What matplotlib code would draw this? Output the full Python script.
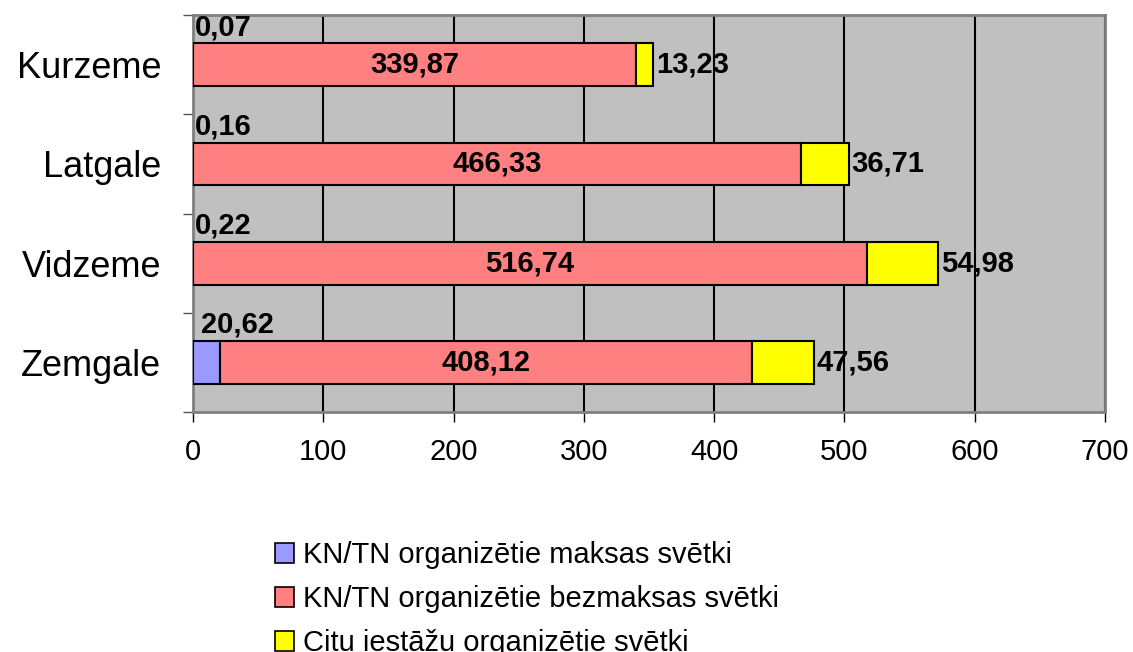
import matplotlib
matplotlib.use("Agg")
import matplotlib.pyplot as plt
from matplotlib.patches import Patch
import numpy as np

regions = ["Kurzeme", "Latgale", "Vidzeme", "Zemgale"]
maksas = [0.07, 0.16, 0.22, 20.62]
bezmaksas = [339.87, 466.33, 516.74, 408.12]
citu = [13.23, 36.71, 54.98, 47.56]
series_names = [
    "KN/TN organizētie maksas svētki",
    "KN/TN organizētie bezmaksas svētki",
    "Citu iestāžu organizētie svētki",
]
colors = ["#9999FF", "#FF8080", "#FFFF00"]
x_ticks = [0, 100, 200, 300, 400, 500, 600, 700]

plt.rcParams["font.family"] = ["Liberation Sans", "DejaVu Sans"]


def fmt(v):
    return f"{v:.2f}".replace(".", ",")


fig = plt.figure(figsize=(11.33, 6.52), dpi=100)
ax = fig.add_axes([0.1703, 0.368, 0.805, 0.609])
ax.set_facecolor("#C0C0C0")

y = np.arange(len(regions))
h = 0.43
left = np.zeros(len(regions))
for vals, col in zip([maksas, bezmaksas, citu], colors):
    ax.barh(y, vals, left=left, height=h, color=col, edgecolor="black",
            linewidth=1.5, zorder=3)
    left = left + np.array(vals)

# value labels
lbl = dict(fontsize=21, fontweight="bold", zorder=5, va="center")
for i in range(len(regions)):
    ax.annotate(fmt(maksas[i]), (maksas[i] / 2, y[i]), xytext=(22, 27),
                textcoords="offset points", ha="center", **lbl)
    ax.annotate(fmt(bezmaksas[i]), (maksas[i] + bezmaksas[i] / 2, y[i]),
                ha="center", **lbl)
    ax.annotate(fmt(citu[i]), (maksas[i] + bezmaksas[i] + citu[i], y[i]),
                xytext=(2, 0), textcoords="offset points", ha="left", **lbl)

ax.set_xlim(0, 700)
ax.set_ylim(len(regions) - 0.5, -0.5)
ax.set_xticks(x_ticks)
ax.set_xticklabels([str(t) for t in x_ticks])
ax.set_yticks(y)
ax.set_yticklabels(regions)
ax.set_yticks(np.arange(len(regions) + 1) - 0.5, minor=True)
ax.tick_params(axis="y", which="major", length=0, pad=23, labelsize=26)
ax.tick_params(axis="y", which="minor", length=7, width=1, color="#555555")
ax.tick_params(axis="x", which="major", length=7, width=1, pad=12, labelsize=21)

ax.xaxis.grid(True, color="black", linewidth=1.5, zorder=1)
ax.set_axisbelow(True)
for s in ["top", "right", "bottom", "left"]:
    ax.spines[s].set_color("#808080")
    ax.spines[s].set_linewidth(2)

handles = [Patch(facecolor=c, edgecolor="black", linewidth=1.2) for c in colors]
fig.legend(handles, series_names, loc="upper left",
           bbox_to_anchor=(0.2427, 0.170), frameon=False,
           fontsize=21, handlelength=0.65, handleheight=0.7, handletextpad=0.3,
           labelspacing=0.55, borderpad=0, borderaxespad=0)

fig.savefig("out.png", dpi=100)
